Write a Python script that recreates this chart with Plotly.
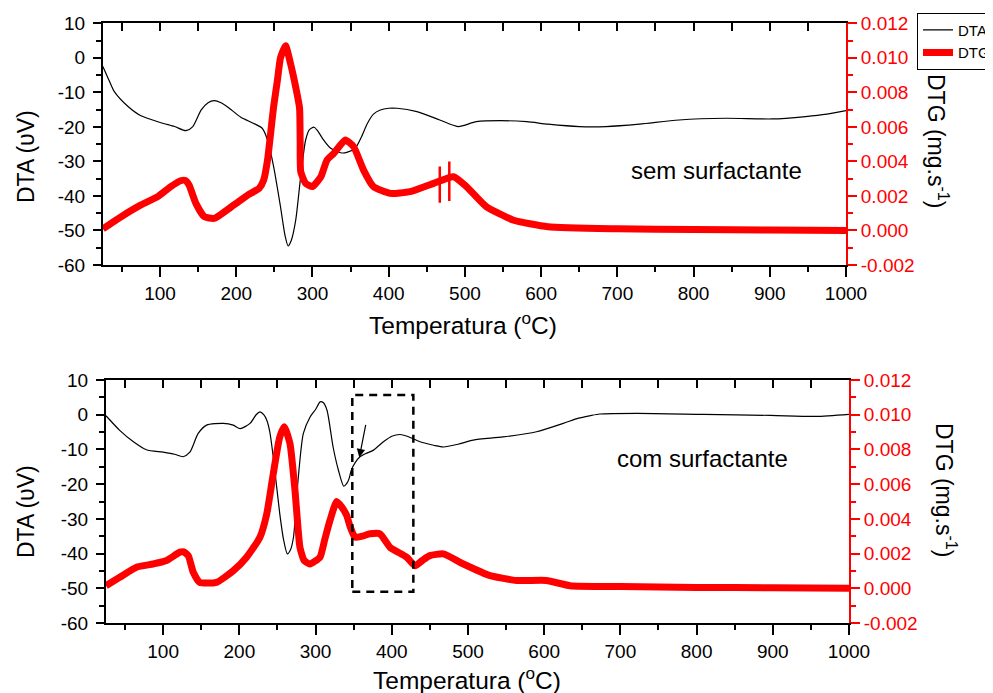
import plotly.graph_objects as go

# ---------------- data ----------------
# Top panel: sem surfactante
top_dta_T = [25, 33, 40, 58, 75, 101, 119, 134, 143, 154, 163, 171, 180, 189, 206, 223, 234, 241, 249,
             258, 264, 268, 272, 278, 284, 291, 296, 302, 307, 313, 324, 337, 345, 356, 364, 372, 380,
             389, 400, 411, 437, 467, 491, 515, 546, 581, 609, 650, 685, 729, 781, 842, 903, 947, 975, 1000]
top_dta_v = [-2.5, -6.5, -9.8, -14.1, -16.8, -18.8, -19.9, -21.1, -19.9, -15.1, -13.0, -12.4, -13.0, -14.3,
             -17.2, -19.0, -20.4, -23.8, -31.5, -43.1, -51.5, -54.5, -53.0, -47.0, -35.4, -23.8, -20.8,
             -20.1, -21.2, -23.3, -26.2, -27.5, -27.4, -26.2, -23.0, -19.0, -16.3, -15.1, -14.6, -14.6,
             -15.6, -18.0, -19.9, -18.5, -18.2, -18.5, -19.2, -19.9, -19.9, -19.2, -18.0, -17.5, -17.7,
             -17.0, -16.3, -15.3]

top_dtg_T = [25, 49, 75, 97, 114, 127, 133, 138, 147, 158, 171, 197, 215, 230, 236, 241, 245, 249, 254,
             258, 264.7, 271, 278, 283, 283.8, 284.6, 291, 300, 311, 319, 328, 343, 354, 367, 380, 402,
             428, 459, 485, 502, 528, 563, 609, 700, 800, 900, 1000]
top_dtg_v = [0.0001, 0.0008, 0.00148, 0.00196, 0.00254, 0.00288, 0.0029, 0.00263, 0.00157, 0.0008,
             0.0007, 0.00148, 0.00205, 0.00244, 0.00292, 0.00408, 0.0056, 0.00717, 0.0087, 0.0100,
             0.0107, 0.0097, 0.0083, 0.0071, 0.0052, 0.0034, 0.00273, 0.00254, 0.00311, 0.00408,
             0.00447, 0.00524, 0.00485, 0.0035, 0.00254, 0.00215, 0.00225, 0.00273, 0.00311, 0.00254,
             0.00138, 0.00061, 0.00022, 0.0001, 0.00005, 0.00003, 0.0]

# isolated spikes in the top DTG record
spike_T = [467, 479.5]
spike_lo = [0.0016, 0.0017]
spike_hi = [0.0037, 0.0040]

# Bottom panel: com surfactante
bot_dta_T = [25, 43, 61, 78, 100, 115, 126, 135, 146, 157, 179, 192, 201, 214, 222, 227, 232, 236, 240,
             244.5, 253, 258, 263, 267, 271, 277, 284, 293, 300, 306, 310, 315, 323, 330, 337, 341, 344,
             347, 352, 358, 366, 376, 389, 400, 411, 420, 437, 455, 468, 487, 507, 546, 590, 625, 645,
             660, 673, 722, 809, 897, 956, 1000]
bot_dta_v = [-0.3, -4.5, -7.8, -10.1, -10.8, -11.4, -12.1, -10.8, -5.4, -3.0, -2.5, -3.0, -4.0, -2.5, 0.0,
             0.8, 0.0, -1.6, -5.0, -12.2, -28.5, -36.0, -40.1, -39.0, -35.3, -18.9, -5.4, -0.6, 1.5, 3.7,
             3.5, 1.3, -9.3, -16.0, -20.6, -19.8, -18.4, -15.9, -13.8, -12.2, -11.2, -10.2, -7.8, -6.2,
             -5.7, -6.2, -7.8, -8.8, -9.3, -8.5, -7.3, -6.4, -4.9, -2.5, -1.0, -0.3, 0.2, 0.4, 0.1, -0.2,
             -0.5, 0.1]

bot_dtg_T = [25, 43, 65, 87, 104.5, 122, 127, 133, 139.5, 148, 170, 192, 209.5, 227, 236, 244.5, 253,
             259, 266.4, 273, 279.5, 285, 292.6, 305.8, 312, 318.9, 327.7, 334, 340.8, 345, 351.7, 361,
             371.4, 384.5, 397.7, 419.6, 430.5, 440, 450, 467.6, 494, 529, 564, 603, 634, 700, 800, 900,
             1000]
bot_dtg_v = [0.00015, 0.00063, 0.00121, 0.0014, 0.0016, 0.00208, 0.0021, 0.00188, 0.00092, 0.00034,
             0.00034, 0.00101, 0.00179, 0.00294, 0.0043, 0.0066, 0.00872, 0.0093, 0.00834, 0.00564,
             0.00236, 0.0016, 0.0014, 0.00179, 0.0028, 0.00391, 0.005, 0.0047, 0.0042, 0.0036, 0.00294,
             0.003, 0.00314, 0.00314, 0.00236, 0.00179, 0.0013, 0.0016, 0.00188, 0.00198, 0.0014,
             0.00073, 0.00045, 0.00045, 0.00015, 0.0001, 0.00005, 0.00003, 0.0]

# tick labels
x_ticks = [100, 200, 300, 400, 500, 600, 700, 800, 900, 1000]
x_ticktext = ["100", "200", "300", "400", "500", "600", "700", "800", "900", "1000"]
dta_ticks = [10, 0, -10, -20, -30, -40, -50, -60]
dta_ticktext = ["10", "0", "-10", "-20", "-30", "-40", "-50", "-60"]
dtg_ticks = [0.012, 0.010, 0.008, 0.006, 0.004, 0.002, 0.000, -0.002]
dtg_ticktext = ["0.012", "0.010", "0.008", "0.006", "0.004", "0.002", "0.000", "-0.002"]

# ---------------- figure ----------------
OFF = 8  # page body margin
W, H = 993 - OFF, 693 - OFF
FONT = "Arial, Liberation Sans, sans-serif"
RED = "#ff0000"


def px(x):
    return (x - OFF) / W


def py(y):
    return 1 - (y - OFF) / H


fig = go.Figure()

fig.add_trace(go.Scatter(x=top_dta_T, y=top_dta_v, mode="lines", name="DTA",
                         line=dict(color="black", width=1.2, shape="spline", smoothing=0.7),
                         xaxis="x", yaxis="y"))
fig.add_trace(go.Scatter(x=top_dtg_T, y=top_dtg_v, mode="lines", name="DTG",
                         line=dict(color=RED, width=7, shape="spline", smoothing=0.5),
                         xaxis="x", yaxis="y2"))
sx, sy = [], []
for t, lo, hi in zip(spike_T, spike_lo, spike_hi):
    sx += [t, t, None]
    sy += [lo, hi, None]
fig.add_trace(go.Scatter(x=sx, y=sy, mode="lines", showlegend=False,
                         line=dict(color=RED, width=2.5), xaxis="x", yaxis="y2"))

fig.add_trace(go.Scatter(x=bot_dta_T, y=bot_dta_v, mode="lines", showlegend=False,
                         line=dict(color="black", width=1.2, shape="spline", smoothing=0.7),
                         xaxis="x2", yaxis="y3"))
fig.add_trace(go.Scatter(x=bot_dtg_T, y=bot_dtg_v, mode="lines", showlegend=False,
                         line=dict(color=RED, width=7, shape="spline", smoothing=0.5),
                         xaxis="x2", yaxis="y4"))

# invisible traces for top frame axes
fig.add_trace(go.Scatter(x=[500], y=[0], mode="markers", marker=dict(opacity=0), showlegend=False,
                         hoverinfo="skip", xaxis="x3", yaxis="y"))
fig.add_trace(go.Scatter(x=[500], y=[0], mode="markers", marker=dict(opacity=0), showlegend=False,
                         hoverinfo="skip", xaxis="x4", yaxis="y3"))

tickfont = dict(family=FONT, size=19, color="black")
redfont = dict(family=FONT, size=19, color=RED)


def xaxis_main(domain, anchor):
    return dict(domain=domain, anchor=anchor, range=[25, 1000], tickmode="array", tickvals=x_ticks,
                ticktext=x_ticktext, ticks="outside", ticklen=10, tickwidth=1.5, tickcolor="black",
                showline=True, linecolor="black", linewidth=2, showgrid=False, zeroline=False,
                tickfont=tickfont,
                minor=dict(dtick=50, tick0=0, ticks="outside", ticklen=5, tickwidth=1.5, tickcolor="black"))


def xaxis_top(overlay, anchor):
    return dict(overlaying=overlay, anchor=anchor, side="top", range=[25, 1000], tickmode="linear",
                tick0=0, dtick=50, ticks="inside", ticklen=8, tickwidth=1.5, tickcolor="black",
                showticklabels=False, showline=True, linecolor="black", linewidth=2, showgrid=False,
                zeroline=False)


def yaxis_dta(domain, anchor):
    return dict(domain=domain, anchor=anchor, range=[-60, 10], tickmode="array", tickvals=dta_ticks,
                ticktext=dta_ticktext, ticks="outside", ticklen=8, tickwidth=1.5, tickcolor="black",
                showline=True, linecolor="black", linewidth=2, showgrid=False, zeroline=False,
                tickfont=tickfont, ticklabelstandoff=4,
                minor=dict(dtick=5, tick0=0, ticks="outside", ticklen=5, tickwidth=1.5, tickcolor="black"))


def yaxis_dtg(overlay, anchor):
    return dict(overlaying=overlay, anchor=anchor, side="right", range=[-0.002, 0.012], tickmode="array",
                tickvals=dtg_ticks, ticktext=dtg_ticktext, ticks="outside", ticklen=9, tickwidth=1.5,
                tickcolor=RED, showline=True, linecolor=RED, linewidth=2, showgrid=False, zeroline=False,
                tickfont=redfont,
                minor=dict(dtick=0.001, tick0=0, ticks="outside", ticklen=5, tickwidth=1.5, tickcolor=RED))


fig.update_layout(
    width=W, height=H,
    margin=dict(l=0, r=0, t=0, b=0, autoexpand=False),
    paper_bgcolor="white", plot_bgcolor="white",
    font=dict(family=FONT, color="black"),
    xaxis=xaxis_main([px(102.9), px(846)], "y"),
    xaxis2=xaxis_main([px(106), px(849)], "y3"),
    xaxis3=xaxis_top("x", "y"),
    xaxis4=xaxis_top("x2", "y3"),
    yaxis=yaxis_dta([py(265), py(23.3)], "x"),
    yaxis2=yaxis_dtg("y", "x"),
    yaxis3=yaxis_dta([py(623), py(380)], "x2"),
    yaxis4=yaxis_dtg("y3", "x2"),
    legend=dict(x=px(917), y=py(12.7), xanchor="left", yanchor="top", bgcolor="white",
                bordercolor="black", borderwidth=1, font=dict(family=FONT, size=15, color="black"),
                tracegroupgap=0, itemwidth=30),
    showlegend=True,
)

# legend shadow
fig.add_shape(type="rect", xref="paper", yref="paper", x0=px(924), x1=1.02, y0=py(62), y1=py(55),
              fillcolor="black", line=dict(width=0), layer="above")

# dashed box and arrow in lower panel
fig.add_shape(type="rect", xref="x2", yref="y3", x0=348.2, x1=428.3, y0=-51, y1=5.7,
              line=dict(color="black", width=2.5, dash="8px,6px"), fillcolor="rgba(0,0,0,0)")
fig.add_annotation(x=357.4, y=-12.3, ax=366.2, ay=-2.5, xref="x2", yref="y3", axref="x2", ayref="y3",
                   showarrow=True, arrowhead=2, arrowsize=1.4, arrowwidth=1.2, arrowcolor="black", text="")

texts = [
    ("sem surfactante", 716.5, 170.7, 0, 24),
    ("com surfactante", 702.5, 458, 0, 24),
    ("Temperatura (<sup>o</sup>C)", 463, 323, 0, 24.5),
    ("Temperatura (<sup>o</sup>C)", 467, 678, 0, 24.5),
    ("DTA (υV)", 26, 157, -90, 23),
    ("DTA (υV)", 26, 512, -90, 23),
    ("DTG (mg.s<sup>-1</sup>)", 938, 141, 90, 23),
    ("DTG (mg.s<sup>-1</sup>)", 946, 490, 90, 23),
]
for t, x, y, ang, fs in texts:
    fig.add_annotation(text=t, x=px(x), y=py(y), xref="paper", yref="paper", showarrow=False,
                       xanchor="center", yanchor="middle", textangle=ang,
                       font=dict(family=FONT, size=fs, color="black"))

fig.write_html("out.html")
